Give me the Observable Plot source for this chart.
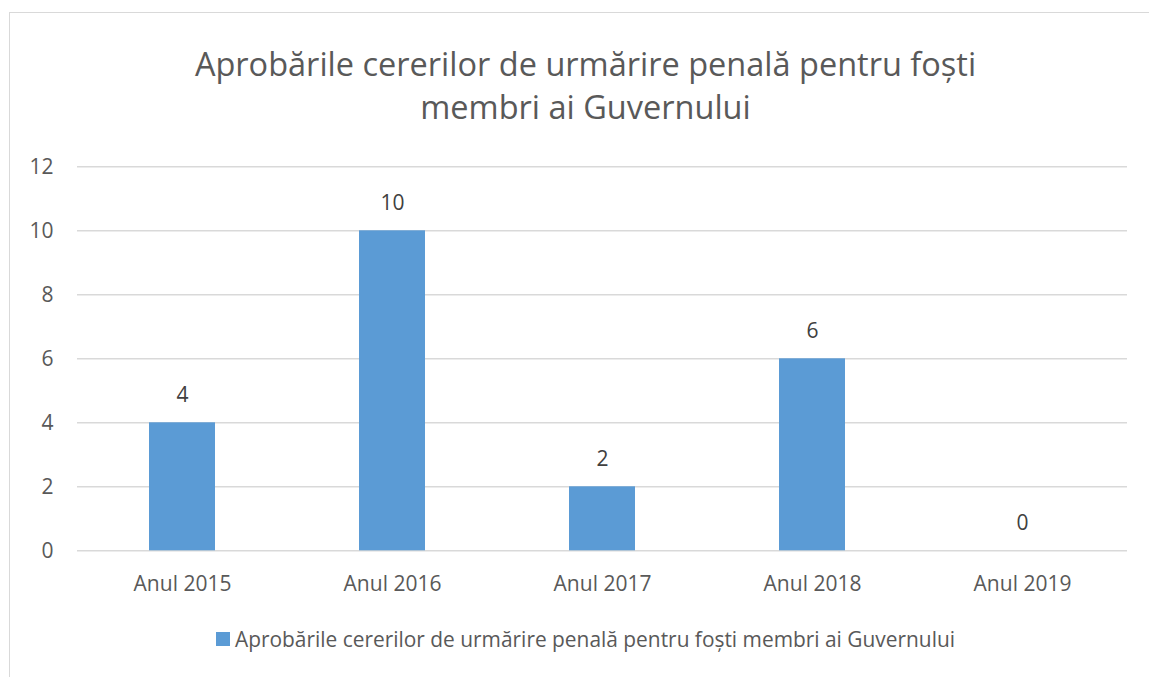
<!DOCTYPE html>
<html><head><meta charset="utf-8">
<script src="https://cdn.jsdelivr.net/npm/d3@7"></script>
<script src="https://cdn.jsdelivr.net/npm/@observablehq/plot@0.6"></script>
<style>
html,body{margin:0;padding:0;width:1149px;height:677px;overflow:hidden;background:#fff;font-family:"Open Sans",sans-serif;}
#frame{position:absolute;left:9px;top:12px;width:2000px;height:2000px;border:1.5px solid #d9d9d9;box-sizing:border-box;}
#title{position:absolute;left:10px;top:42px;width:1151px;text-align:center;font-size:32.5px;line-height:43px;color:#595959;}
#chart{position:absolute;left:0;top:146px;}
#legend{position:absolute;left:10px;width:1151px;top:625px;height:28px;display:flex;justify-content:center;align-items:center;font-size:20.9px;line-height:28px;color:#595959;}
#legend .sw{display:inline-block;width:14px;height:14px;background:#5b9bd5;margin-right:5px;}
</style></head>
<body>
<div id="frame"></div>
<div id="title"></div>
<div id="chart"></div>
<div id="legend"><span class="sw"></span><span id="ltext"></span></div>
<script>
const titleLines = ["Aprobările cererilor de urmărire penală pentru foști", "membri ai Guvernului"];
const seriesName = "Aprobările cererilor de urmărire penală pentru foști membri ai Guvernului";
const years = ["Anul 2015", "Anul 2016", "Anul 2017", "Anul 2018", "Anul 2019"];
const values = [4, 10, 2, 6, 0];
const yTicks = [0, 2, 4, 6, 8, 10, 12];

const data = years.map((y, i) => ({year: y, value: values[i]}));

document.getElementById("title").innerHTML = titleLines.join("<br>");
document.getElementById("ltext").textContent = seriesName;

const chart = Plot.plot({
  width: 1149,
  height: 470,
  marginTop: 20.3,
  marginBottom: 65.7,
  marginLeft: 77,
  marginRight: 22,
  style: {fontFamily: "Open Sans, sans-serif", fontSize: "21px", color: "#595959", background: "transparent", overflow: "visible"},
  x: {domain: years, paddingInner: 0.686, paddingOuter: 0.343, label: null},
  y: {domain: [0, 12], label: null},
  marks: [
    Plot.ruleY(yTicks, {stroke: "#d9d9d9", strokeWidth: 1.5}),
    Plot.barY(data, {x: "year", y: "value", fill: "#5b9bd5"}),
    Plot.text(data, {x: "year", y: "value", text: d => String(d.value), dy: -27.5, fill: "#404040", fontSize: 21}),
    Plot.axisX({tickSize: 0, tickPadding: 25, label: null, fontSize: 21}),
    Plot.axisY({ticks: yTicks, tickSize: 0, tickPadding: 24, label: null, fontSize: 21})
  ]
});
document.getElementById("chart").appendChild(chart);
</script>
</body></html>
